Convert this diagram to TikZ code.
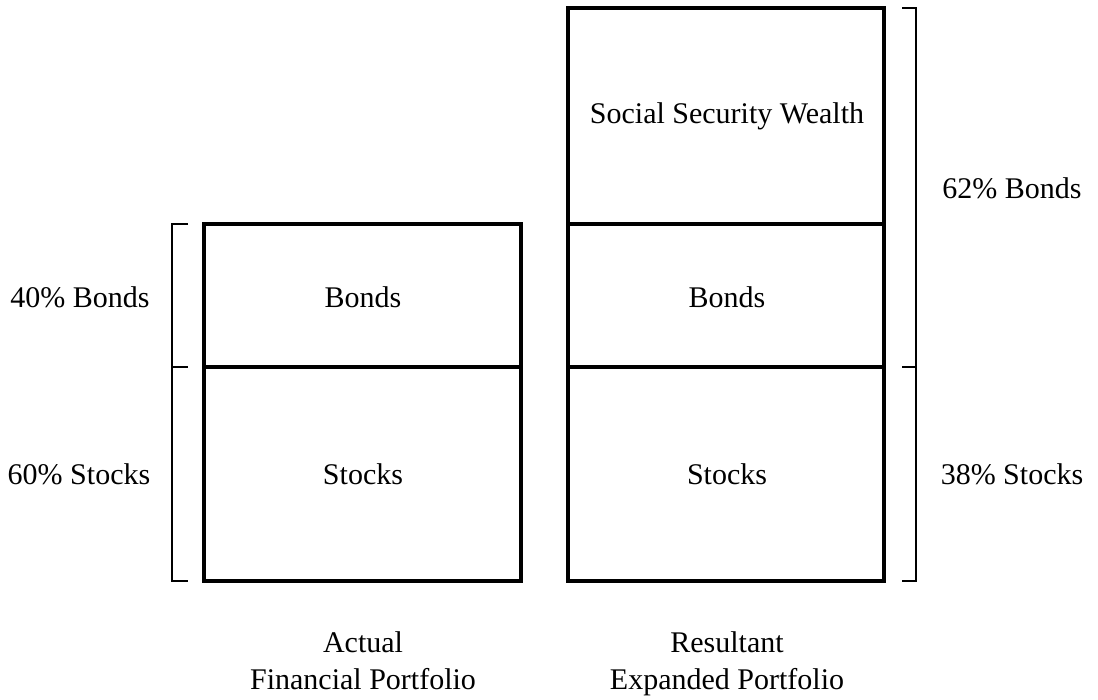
\documentclass[tikz,border=0pt]{standalone}
\usepackage{fontspec}
\setmainfont{Liberation Serif}
\begin{document}
\begin{tikzpicture}[x=1pt,y=-1pt,
  part/.style={draw=black,line width=4pt,line join=miter},
  brace/.style={draw=black,line width=1.3pt},
  lbl/.style={font=\fontsize{30}{37}\selectfont,inner sep=0pt},
  captionline/.style={lbl,anchor=base}]
\useasboundingbox (0,0) rectangle (1098,700);
% actual portfolio
\draw[part] (204,224) rectangle (521,581);
\draw[part] (204,367) -- (521,367);
% expanded portfolio
\draw[part] (568,8) rectangle (884,581);
\draw[part] (568,224) -- (884,224);
\draw[part] (568,367) -- (884,367);
% left bracket
\draw[brace] (188,224) -- (172,224) -- (172,581) -- (188,581);
\draw[brace] (172,367) -- (188,367);
% right bracket
\draw[brace] (902,8) -- (916,8) -- (916,581) -- (902,581);
\draw[brace] (902,367) -- (916,367);
% labels
\node[lbl] (lb) at (80,297) {40\% Bonds};
\node[lbl] (ls) at (79,474) {60\% Stocks};
\node[lbl] (rb) at (1012,188) {62\% Bonds};
\node[lbl] (rs) at (1012,474) {38\% Stocks};
\node[lbl] (b1) at (363,297) {Bonds};
\node[lbl] (s1) at (363,474) {Stocks};
\node[lbl] (ssw) at (727,116) {Social Security Wealth};
\node[lbl] (b2) at (727,297) {Bonds};
\node[lbl] (s2) at (727,474) {Stocks};
\node[captionline] (cap1a) at (363,652) {Actual};
\node[captionline] (cap1b) at (363,689) {Financial Portfolio};
\node[captionline] (cap2a) at (727,652) {Resultant};
\node[captionline] (cap2b) at (727,689) {Expanded Portfolio};
\end{tikzpicture}
\end{document}
